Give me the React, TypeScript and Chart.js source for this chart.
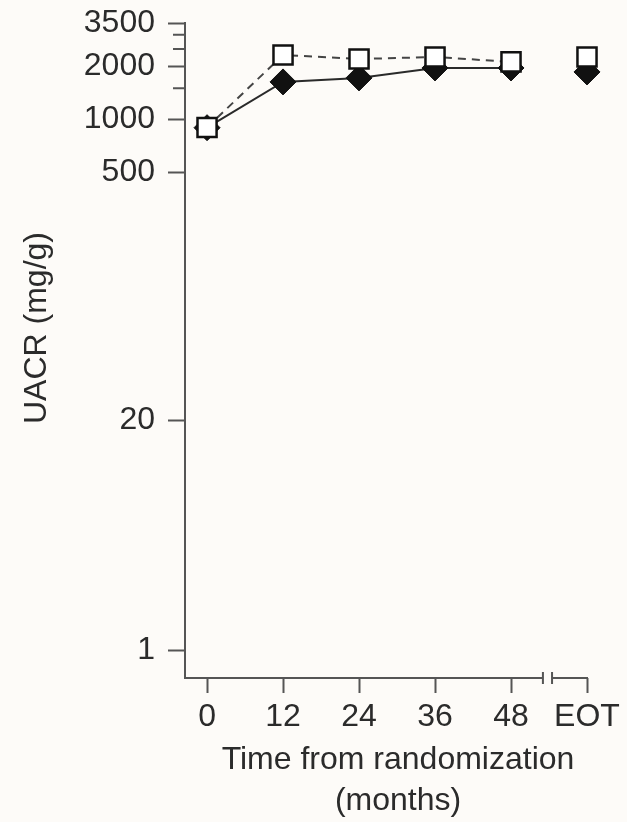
import React, { useEffect, useRef } from 'react';
import { Chart, registerables } from 'chart.js';

Chart.register(...registerables);

// ---- data ----
const categories = ['0', '12', '24', '36', '48', 'EOT'];
const solidSeries = [897, 1627, 1714, 1951, 1950, 1852];
const dashedSeries = [900, 2308, 2192, 2250, 2110, 2250];
const yTickValues = [1, 20, 500, 1000, 1500, 2000, 2500, 3000, 3500];
const yTickLabels = ['1', '20', '500', '1000', '', '2000', '', '', '3500'];
const yTitle = 'UACR (mg/g)';
const xTitleLines = ['Time from randomization', '(months)'];

const FONT = '"Liberation Sans", Arial, sans-serif';
const TEXT = '#2b2b2b';
const AXIS = '#555555';
const BG = '#fdfbf8';

export default function App() {
  const ref = useRef<HTMLCanvasElement | null>(null);

  useEffect(() => {
    if (!ref.current) return;

    const bgPlugin = {
      id: 'bg',
      beforeDraw(chart: any) {
        const { ctx, width, height } = chart;
        ctx.save();
        ctx.fillStyle = BG;
        ctx.fillRect(0, 0, width, height);
        ctx.restore();
      },
    };

    const decorPlugin = {
      id: 'decor',
      afterDraw(chart: any) {
        const { ctx, chartArea } = chart;
        const xs = chart.scales.x;
        const ys = chart.scales.y;
        ctx.save();
        // x axis line with break
        const yLine = chartArea.bottom;
        const b1 = xs.getPixelForValue(4.42);
        const b2 = xs.getPixelForValue(4.54);
        ctx.strokeStyle = AXIS;
        ctx.lineWidth = 2;
        ctx.beginPath();
        ctx.moveTo(chartArea.left - 1, yLine);
        ctx.lineTo(b1, yLine);
        ctx.moveTo(b2, yLine);
        ctx.lineTo(chartArea.right + 1, yLine);
        ctx.stroke();
        ctx.beginPath();
        ctx.moveTo(b1, yLine - 6);
        ctx.lineTo(b1, yLine + 6);
        ctx.moveTo(b2, yLine - 6);
        ctx.lineTo(b2, yLine + 6);
        ctx.stroke();
        // minor y ticks (shorter)
        ctx.beginPath();
        yTickValues.forEach((v, i) => {
          if (yTickLabels[i] === '') {
            const py = ys.getPixelForValue(v);
            ctx.moveTo(chartArea.left - 12, py);
            ctx.lineTo(chartArea.left, py);
          }
        });
        ctx.stroke();
        // titles
        ctx.fillStyle = TEXT;
        ctx.textAlign = 'center';
        ctx.textBaseline = 'middle';
        ctx.font = `32px ${FONT}`;
        ctx.fillText(xTitleLines[0], 398, 760);
        ctx.fillText(xTitleLines[1], 398, 801);
        ctx.save();
        ctx.translate(37, 328);
        ctx.rotate(-Math.PI / 2);
        ctx.font = `32px ${FONT}`;
        ctx.fillText(yTitle, 0, 0);
        ctx.restore();
        ctx.restore();
      },
    };

    const chart = new Chart(ref.current, {
      type: 'line',
      data: {
        datasets: [
          {
            label: 'dashed',
            data: dashedSeries.map((v, i) => ({ x: i, y: v })),
            borderColor: '#444444',
            borderWidth: 2,
            borderDash: [8, 6],
            pointStyle: 'rect',
            pointRadius: 13.5,
            pointBorderWidth: 2.5,
            pointBorderColor: '#111',
            pointBackgroundColor: '#ffffff',
            order: 0,
            clip: false,
            segment: {
              borderColor: (c: any) => (c.p1DataIndex === 5 ? 'rgba(0,0,0,0)' : undefined),
            },
          } as any,
          {
            label: 'solid',
            data: solidSeries.map((v, i) => ({ x: i, y: v })),
            borderColor: '#2a2a2a',
            borderWidth: 2,
            pointStyle: 'rectRot',
            pointRadius: 13,
            pointBorderWidth: 1,
            pointBorderColor: '#111',
            pointBackgroundColor: '#111',
            order: 1,
            clip: false,
            segment: {
              borderColor: (c: any) => (c.p1DataIndex === 5 ? 'rgba(0,0,0,0)' : undefined),
            },
          } as any,
        ],
      },
      options: {
        animation: false,
        responsive: true,
        maintainAspectRatio: false,
        layout: { padding: { left: 0, right: 40, top: 23, bottom: 0 } },
        plugins: {
          legend: { display: false },
          tooltip: { enabled: false },
        },
        scales: {
          x: {
            type: 'linear',
            min: -0.29,
            max: 5,
            afterBuildTicks: (scale: any) => {
              scale.ticks = categories.map((_, i) => ({ value: i }));
            },
            afterFit: (scale: any) => {
              scale.height = 144;
              scale.paddingLeft = 0;
              scale.paddingRight = 0;
            },
            border: { display: false },
            grid: {
              drawOnChartArea: false,
              drawTicks: true,
              tickLength: 15,
              tickColor: AXIS,
              tickWidth: 2,
            },
            ticks: {
              autoSkip: false,
              maxRotation: 0,
              padding: 5,
              color: TEXT,
              font: { family: FONT, size: 32 },
              callback: (v: any) => categories[Math.round(Number(v))] ?? '',
            },
          },
          y: {
            type: 'logarithmic',
            min: 0.72,
            max: 3500,
            afterBuildTicks: (scale: any) => {
              scale.ticks = yTickValues.map((v) => ({ value: v }));
            },
            afterFit: (scale: any) => {
              scale.width = 185;
              scale.paddingTop = 0;
              scale.paddingBottom = 0;
            },
            border: { display: true, color: AXIS, width: 2 },
            grid: {
              drawOnChartArea: false,
              drawTicks: true,
              tickLength: 17,
              tickWidth: 2,
              tickColor: (c: any) => (yTickLabels[c.index] ? AXIS : 'rgba(0,0,0,0)'),
            },
            ticks: {
              autoSkip: false,
              padding: 13,
              color: TEXT,
              font: { family: FONT, size: 32 },
              callback: (_v: any, i: number) => yTickLabels[i],
            },
          },
        },
      },
      plugins: [bgPlugin, decorPlugin],
    } as any);

    return () => chart.destroy();
  }, []);

  return (
    <div style={{ position: 'absolute', left: 0, top: 0, width: 627, height: 822 }}>
      <canvas ref={ref} />
    </div>
  );
}
